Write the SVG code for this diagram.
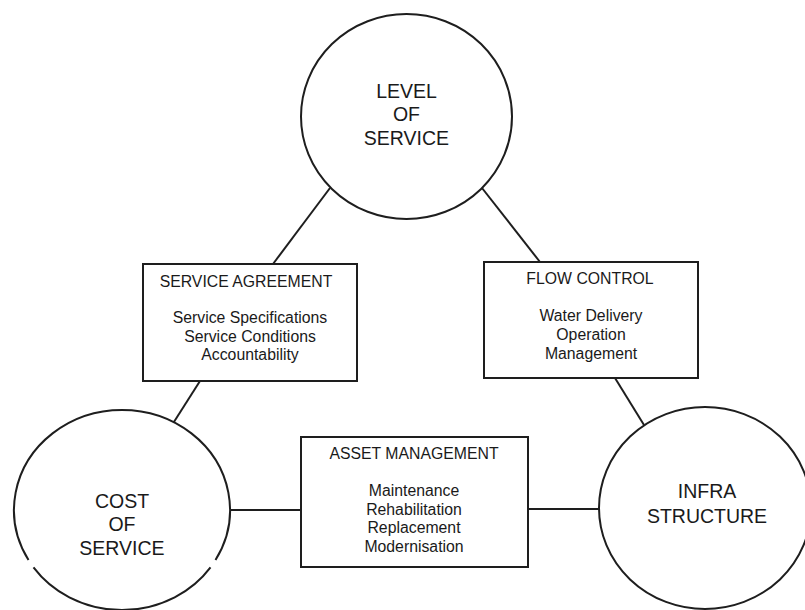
<svg xmlns="http://www.w3.org/2000/svg" width="805" height="610" viewBox="0 0 805 610">
  <style>
    .shape { fill: #ffffff; stroke: #1e1e1e; stroke-width: 2; }
    .link { fill: none; stroke: #1e1e1e; stroke-width: 2; }
    .big { font-family: "Liberation Sans", Arial, sans-serif; font-size: 19.5px; fill: #1a1a1a; text-anchor: middle; }
    .box { font-family: "Liberation Sans", Arial, sans-serif; font-size: 15.8px; fill: #1a1a1a; text-anchor: middle; }
  </style>
  <rect width="805" height="610" fill="#ffffff"/>

  <!-- connectors (drawn first so node fills cover the ends) -->
  <g id="connectors">
    <line class="link" x1="330" y1="188" x2="273" y2="264"/>
    <line class="link" x1="200" y1="381" x2="172" y2="425"/>
    <line class="link" x1="482" y1="188" x2="540" y2="262"/>
    <line class="link" x1="615" y1="378" x2="644" y2="425"/>
    <line class="link" x1="228" y1="510" x2="301" y2="510"/>
    <line class="link" x1="528" y1="509" x2="601" y2="509"/>
  </g>

  <!-- circle: level of service -->
  <g id="level-of-service">
    <ellipse class="shape" cx="406.5" cy="116.5" rx="105.5" ry="102.5"/>
    <text class="big" x="406.5" y="98">LEVEL</text>
    <text class="big" x="406.5" y="121">OF</text>
    <text class="big" x="406.5" y="145">SERVICE</text>
  </g>

  <!-- circle: cost of service (outline broken near the bottom) -->
  <g id="cost-of-service">
    <ellipse cx="122" cy="510" rx="108" ry="100" fill="#ffffff" stroke="none"/>
    <path class="link" d="M 28.5 560 A 108 100 0 1 1 215.5 560"/>
    <path class="link" d="M 210.5 567.4 A 108 100 0 0 1 33.5 567.4"/>
    <text class="big" x="122" y="508">COST</text>
    <text class="big" x="122" y="531">OF</text>
    <text class="big" x="122" y="555">SERVICE</text>
  </g>

  <!-- circle: infrastructure -->
  <g id="infrastructure">
    <ellipse class="shape" cx="705" cy="508" rx="106" ry="101"/>
    <text class="big" x="707" y="498">INFRA</text>
    <text class="big" x="707" y="523">STRUCTURE</text>
  </g>

  <!-- box: service agreement -->
  <g id="service-agreement">
    <rect class="shape" x="143" y="264" width="214" height="117"/>
    <text class="box" x="246" y="287">SERVICE AGREEMENT</text>
    <text class="box" x="250" y="323">Service Specifications</text>
    <text class="box" x="250" y="341.5">Service Conditions</text>
    <text class="box" x="250" y="360">Accountability</text>
  </g>

  <!-- box: flow control -->
  <g id="flow-control">
    <rect class="shape" x="484" y="262" width="214" height="116"/>
    <text class="box" x="590" y="284">FLOW CONTROL</text>
    <text class="box" x="591" y="321">Water Delivery</text>
    <text class="box" x="591" y="340">Operation</text>
    <text class="box" x="591" y="358.5">Management</text>
  </g>

  <!-- box: asset management -->
  <g id="asset-management">
    <rect class="shape" x="301" y="437" width="227" height="130"/>
    <text class="box" x="414" y="459">ASSET MANAGEMENT</text>
    <text class="box" x="414" y="496">Maintenance</text>
    <text class="box" x="414" y="514.7">Rehabilitation</text>
    <text class="box" x="414" y="533.3">Replacement</text>
    <text class="box" x="414" y="552">Modernisation</text>
  </g>
</svg>
